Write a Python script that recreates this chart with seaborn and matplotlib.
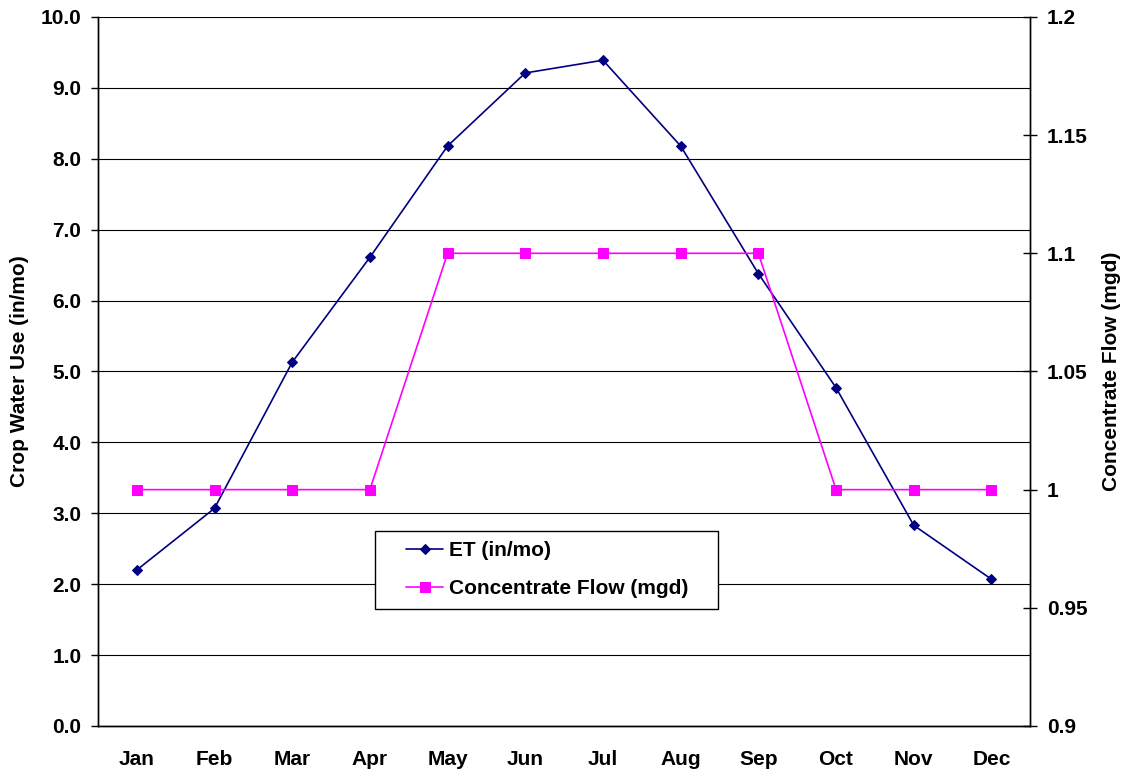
import matplotlib
matplotlib.use("Agg")
import matplotlib.pyplot as plt
from matplotlib.legend_handler import HandlerLine2D
import seaborn as sns
import numpy as np
import pandas as pd

months = ["Jan", "Feb", "Mar", "Apr", "May", "Jun", "Jul", "Aug", "Sep", "Oct", "Nov", "Dec"]
et_values = [2.20, 3.07, 5.13, 6.61, 8.18, 9.21, 9.39, 8.18, 6.38, 4.77, 2.83, 2.07]
flow_values = [1.0, 1.0, 1.0, 1.0, 1.1, 1.1, 1.1, 1.1, 1.1, 1.0, 1.0, 1.0]
left_ticks = [0, 1, 2, 3, 4, 5, 6, 7, 8, 9, 10]
right_ticks = [0.9, 0.95, 1.0, 1.05, 1.1, 1.15, 1.2]
right_labels = ["0.9", "0.95", "1", "1.05", "1.1", "1.15", "1.2"]

sns.set_style("white")
plt.rcParams['font.family'] = ['Liberation Sans', 'DejaVu Sans']
plt.rcParams['font.weight'] = 'bold'
plt.rcParams['text.color'] = 'black'
plt.rcParams['axes.labelcolor'] = 'black'
plt.rcParams['xtick.color'] = 'black'
plt.rcParams['ytick.color'] = 'black'

FS = 15

df = pd.DataFrame({"month": months, "et": et_values, "flow": flow_values})

fig = plt.figure(figsize=(11.26, 7.71), dpi=100)
ax = fig.add_axes([0.087, 0.0584, 0.828, 0.9196])
ax2 = ax.twinx()

sns.lineplot(data=df, x="month", y="et", ax=ax, color="#000080", marker="D",
             markersize=5.5, markeredgecolor="#000080", linewidth=1.2,
             label="ET (in/mo)", legend=False, sort=False)
sns.lineplot(data=df, x="month", y="flow", ax=ax2, color="#FF00FF", marker="s",
             markersize=6.5, markeredgecolor="#FF00FF", linewidth=1.2,
             label="Concentrate Flow (mgd)", legend=False, sort=False)

ax.set_xlim(-0.5, 11.5)
ax.set_ylim(0, 10)
ax2.set_ylim(0.9, 1.2)

ax.set_yticks(left_ticks)
ax.set_yticklabels([f"{v:.1f}" for v in left_ticks], fontsize=FS, fontweight='bold')
ax2.set_yticks(right_ticks)
ax2.set_yticklabels(right_labels, fontsize=FS, fontweight='bold')

ax.set_xticks(range(len(months)))
ax.set_xticklabels(months, fontsize=FS, fontweight='bold')
ax.set_xticks(np.arange(-0.5, 12, 1.0), minor=True)
ax.tick_params(axis='x', which='major', length=0, pad=17)
ax.tick_params(axis='x', which='minor', length=5.5, direction='out', width=1, color='black')
ax.tick_params(axis='y', which='major', length=5, direction='out', width=1, color='black', pad=7)
ax2.tick_params(axis='y', which='major', length=10, direction='inout', width=1, color='black', pad=7)

ax.grid(axis='y', color='black', linewidth=0.8)
ax.set_axisbelow(True)

for a in (ax, ax2):
    a.spines['top'].set_visible(False)
    for s in ('left', 'right', 'bottom'):
        a.spines[s].set_color('black')
        a.spines[s].set_linewidth(1.0)

ax.set_xlabel("")
ax.set_ylabel("Crop Water Use (in/mo)", fontsize=FS, fontweight='bold', labelpad=8)
ax2.set_ylabel("Concentrate Flow (mgd)", fontsize=FS, fontweight='bold', labelpad=10)

h1, l1 = ax.get_legend_handles_labels()
h2, l2 = ax2.get_legend_handles_labels()
hmap = {h: HandlerLine2D(xpad=1.0) for h in h1 + h2}
leg = ax2.legend(h1 + h2, l1 + l2, loc='upper left', bbox_to_anchor=(0.2972, 0.0, 0.368, 0.275),
                 mode='expand', borderaxespad=0, frameon=True, fancybox=False, edgecolor='black',
                 prop={'size': FS, 'weight': 'bold'}, handlelength=2.75, handler_map=hmap,
                 borderpad=0.5, labelspacing=0.9, handletextpad=0.3)
leg.get_frame().set_linewidth(1.0)
leg.get_frame().set_alpha(1.0)

fig.savefig("out.png", dpi=100)
